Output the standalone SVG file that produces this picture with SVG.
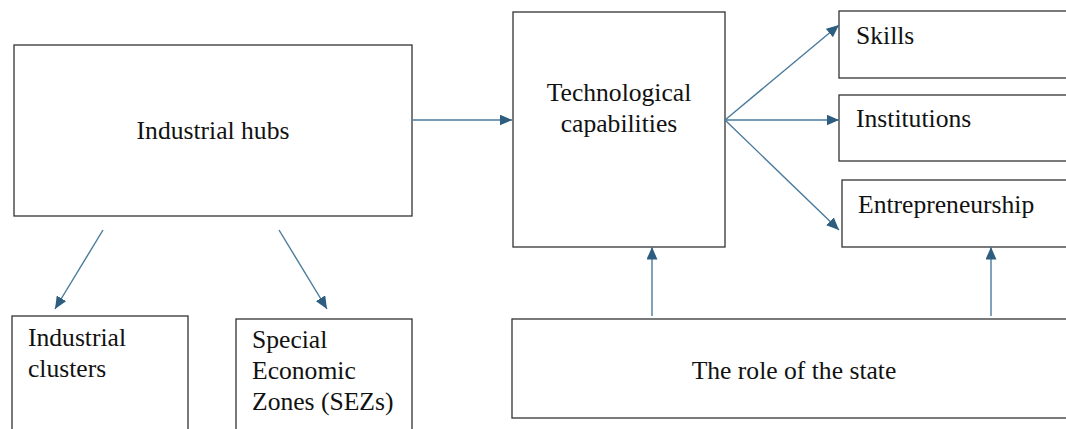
<svg xmlns="http://www.w3.org/2000/svg" width="1066" height="429" viewBox="0 0 1066 429">
  <style>
    .box { fill: #ffffff; stroke: #333333; stroke-width: 1.3; }
    .lbl { font-family: "Liberation Serif", "Times New Roman", serif; font-size: 25.6px; fill: #111111; }
    .mid { text-anchor: middle; }
    .conn { stroke: #4a7a9c; stroke-width: 1.4; fill: none; marker-end: url(#arrow); }
  </style>
  <defs>
    <marker id="arrow" markerUnits="userSpaceOnUse" markerWidth="13" markerHeight="11" refX="12.5" refY="5.5" orient="auto">
      <path d="M0,0 L12.5,5.5 L0,11 z" fill="#2d5e80"/>
    </marker>
  </defs>
  <rect width="1066" height="429" fill="#ffffff"/>

  <g id="industrial-hubs">
    <rect class="box" x="14" y="45" width="398" height="171"/>
    <text class="lbl mid" x="213" y="139">Industrial hubs</text>
  </g>

  <g id="technological-capabilities">
    <rect class="box" x="513" y="12" width="212" height="235"/>
    <text class="lbl mid" x="619" y="101">Technological</text>
    <text class="lbl mid" x="619" y="132">capabilities</text>
  </g>

  <g id="skills">
    <rect class="box" x="839" y="11" width="240" height="67"/>
    <text class="lbl" x="856" y="44">Skills</text>
  </g>

  <g id="institutions">
    <rect class="box" x="839" y="95" width="240" height="66"/>
    <text class="lbl" x="856" y="127">Institutions</text>
  </g>

  <g id="entrepreneurship">
    <rect class="box" x="842" y="180" width="240" height="67"/>
    <text class="lbl" x="858" y="213">Entrepreneurship</text>
  </g>

  <g id="role-of-the-state">
    <rect class="box" x="512" y="319" width="570" height="99"/>
    <text class="lbl mid" x="794" y="379">The role of the state</text>
  </g>

  <g id="industrial-clusters">
    <rect class="box" x="12" y="316" width="176" height="130"/>
    <text class="lbl" x="28" y="346">Industrial</text>
    <text class="lbl" x="28" y="377">clusters</text>
  </g>

  <g id="special-economic-zones">
    <rect class="box" x="236" y="319" width="176" height="130"/>
    <text class="lbl" x="252" y="348">Special</text>
    <text class="lbl" x="252" y="379">Economic</text>
    <text class="lbl" x="252" y="410">Zones (SEZs)</text>
  </g>

  <g id="connectors">
    <line class="conn" x1="413" y1="120" x2="512" y2="120"/>
    <line class="conn" x1="725" y1="120" x2="839" y2="25"/>
    <line class="conn" x1="725" y1="120" x2="839" y2="120"/>
    <line class="conn" x1="725" y1="120" x2="839" y2="230"/>
    <line class="conn" x1="103" y1="230" x2="55" y2="309"/>
    <line class="conn" x1="279" y1="230" x2="327" y2="309"/>
    <line class="conn" x1="652" y1="316" x2="652" y2="247"/>
    <line class="conn" x1="991" y1="316" x2="991" y2="247"/>
  </g>
</svg>
